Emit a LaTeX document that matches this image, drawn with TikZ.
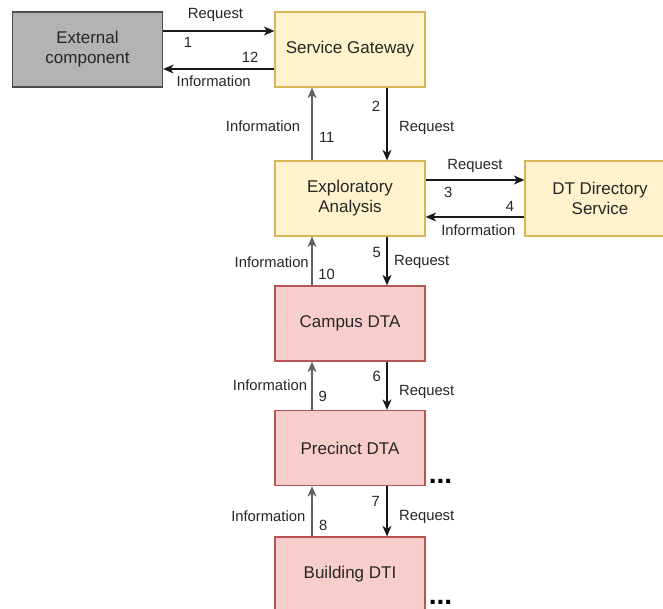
\documentclass[tikz,border=0pt]{standalone}
\usepackage{fontspec}
\setmainfont{Liberation Sans}
\usetikzlibrary{arrows.meta}
\definecolor{yfill}{HTML}{FFF2CC}
\definecolor{ydraw}{HTML}{D6B656}
\definecolor{rfill}{HTML}{F8CECC}
\definecolor{rdraw}{HTML}{B85450}
\definecolor{gfill}{HTML}{B3B3B3}
\definecolor{gdraw}{HTML}{4D4D4D}
\definecolor{txt}{HTML}{262626}
\tikzset{
  box/.style={rectangle, minimum width=150pt, minimum height=75pt, inner sep=0pt,
    line width=1.2pt, align=center, text=txt, font=\fontsize{17}{20}\selectfont},
  ybox/.style={box, fill=yfill, draw=ydraw},
  rbox/.style={box, fill=rfill, draw=rdraw},
  gbox/.style={box, fill=gfill, draw=gdraw},
  tip/.style={-{Stealth[length=10.5pt,width=9pt,inset=3pt]}},
  req/.style={line width=1.3pt, draw=black!90, tip},
  inf/.style={req},
  infv/.style={req, draw=black!62},
  lbl/.style={inner sep=1pt, fill=white, text=txt, font=\fontsize{14.8}{16}\selectfont},
  dots/.style={inner sep=0pt, anchor=base, text=black, font=\fontsize{28}{28}\selectfont\bfseries}
}
\begin{document}
\begin{tikzpicture}[x=1pt,y=-1pt]
  \useasboundingbox (0,0) rectangle (663,609);
  \clip (0,0) rectangle (663,609);

  % components
  \node[gbox] (ext) at (87.5,49.5) {External\\component};
  \node[ybox] (sg)  at (350,49.5)  {Service Gateway};
  \node[ybox] (ea)  at (350,198.5) {Exploratory\\Analysis};
  \node[ybox] (dir) at (600,198.5) {DT Directory\\Service};
  \node[rbox] (cam) at (350,323.5) {Campus DTA};
  \node[rbox] (pre) at (350,448)   {Precinct DTA};
  \node[rbox] (bld) at (350,574.5) {Building DTI};

  % external component <-> gateway
  \draw[req] ([yshift=18.5pt]ext.east) -- ([yshift=18.5pt]ext.east -| sg.west);
  \draw[inf] ([yshift=-19.5pt]sg.west) -- ([yshift=-19.5pt]sg.west -| ext.east);

  % gateway <-> exploratory analysis
  \draw[req]  ([xshift=37pt]sg.south) -- ([xshift=37pt]ea.north);
  \draw[infv] ([xshift=-38pt]ea.north) -- ([xshift=-38pt]sg.south);

  % exploratory analysis <-> directory service
  \draw[req] ([yshift=18.5pt]ea.east) -- ([yshift=18.5pt]ea.east -| dir.west);
  \draw[inf] ([yshift=-18.5pt]dir.west) -- ([yshift=-18.5pt]dir.west -| ea.east);

  % analysis chain down to the building
  \draw[req]  ([xshift=37pt]ea.south)  -- ([xshift=37pt]cam.north);
  \draw[infv] ([xshift=-38pt]cam.north) -- ([xshift=-38pt]ea.south);
  \draw[req]  ([xshift=37pt]cam.south) -- ([xshift=37pt]pre.north);
  \draw[infv] ([xshift=-38pt]pre.north) -- ([xshift=-38pt]cam.south);
  \draw[req]  ([xshift=37pt]pre.south) -- ([xshift=37pt]bld.north);
  \draw[infv] ([xshift=-38pt]bld.north) -- ([xshift=-38pt]pre.south);

  % labels
  \node[lbl] (l1r) at (215.5,15)  {Request};
  \node[lbl] (l1)  at (188,42)    {1};
  \node[lbl] (l12) at (250,57)    {12};
  \node[lbl] (l12i) at (213.7,81) {Information};

  \node[lbl] (l2)  at (376,106.5) {2};
  \node[lbl] (l2r) at (426.7,128.3) {Request};
  \node[lbl] (l11i) at (263,126.7) {Information};
  \node[lbl] (l11) at (326.7,137.3) {11};

  \node[lbl] (l3r) at (475,166)   {Request};
  \node[lbl] (l3)  at (448.3,192.3) {3};
  \node[lbl] (l4)  at (510,206.7) {4};
  \node[lbl] (l4i) at (478.3,230.7) {Information};

  \node[lbl] (l5)  at (376.7,252.7) {5};
  \node[lbl] (l5r) at (421.7,261.7) {Request};
  \node[lbl] (l10i) at (271.7,262.7) {Information};
  \node[lbl] (l10) at (326.7,274) {10};

  \node[lbl] (l6)  at (376.7,376.7) {6};
  \node[lbl] (l6r) at (426.7,391.7) {Request};
  \node[lbl] (l9i) at (270,385)   {Information};
  \node[lbl] (l9)  at (322.7,396.7) {9};

  \node[lbl] (l7)  at (375.7,501.7) {7};
  \node[lbl] (l7r) at (426.7,517.3) {Request};
  \node[lbl] (l8i) at (268.3,516.7) {Information};
  \node[lbl] (l8)  at (323.3,525) {8};

  % further levels not shown
  \node[dots] (d1) at (440.5,483) {...};
  \node[dots] (d2) at (440.5,604) {...};
\end{tikzpicture}
\end{document}
